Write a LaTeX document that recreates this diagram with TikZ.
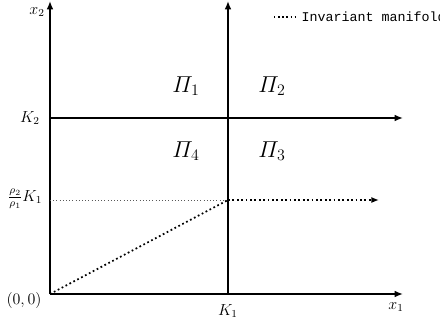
\documentclass[tikz,border=0pt]{standalone}
\usepackage{amsmath,amssymb}
\usepackage{fontspec}
\setmonofont{Liberation Mono}
\usepackage{tikz}
\usetikzlibrary{arrows.meta, positioning, calc}

\begin{document}
\begin{tikzpicture}[
    x=0.75pt, y=-0.75pt,
    axis/.style={line width=1.3pt, -{Latex[length=2.2mm, width=1.8mm]}},
    guide/.style={dotted, line width=0.4pt, gray!70!black},
    manifold/.style={dotted, line width=1.3pt},
    region/.style={font=\LARGE},
    lbl/.style={font=\large}
]
\useasboundingbox (0,0) rectangle (440,325);
\clip (0,0) rectangle (440,325);

% axes and thresholds
\coordinate (orig) at (50,294);
\coordinate (xend) at (403,294);
\coordinate (yend) at (50,1);
\coordinate (kone) at (228,294);
\coordinate (konetop) at (228,1);
\coordinate (ktwo) at (50,118);
\coordinate (ktwoend) at (403,118);
\coordinate (rho) at (50,200);
\coordinate (corner) at (228,200);
\coordinate (mfend) at (379,200);

\draw[axis] (orig) -- (xend);
\draw[axis] (orig) -- (yend);
\draw[axis] (kone) -- (konetop);
\draw[axis] (ktwo) -- (ktwoend);
\draw[guide] (rho) -- (corner);
\draw[manifold] (orig) -- (corner);
\draw[manifold, -{Latex[length=2mm, width=1.6mm]}] (corner) -- (mfend);

% axis labels
\node[lbl] (xtwo) at (37,12) {$x_2$};
\node[lbl] (xone) at (396,307) {$x_1$};
\node[lbl] (ktwolbl) at (30,118) {$K_2$};
\node[lbl] (konelbl) at (228,311) {$K_1$};
\node[lbl] (origlbl) at (24,300) {$(0,0)$};
\node[lbl] (rholbl) at (25,199) {$\frac{\rho_2}{\rho_1}K_1$};

% regions
\node[region] (pione) at (186,86) {$\varPi_1$};
\node[region] (pitwo) at (272,86) {$\varPi_2$};
\node[region] (pifour) at (186,151) {$\varPi_4$};
\node[region] (pithree) at (272,151) {$\varPi_3$};

% legend
\coordinate (lgs) at (274,17);
\coordinate (lge) at (298,17);
\draw[manifold, line width=1.1pt] (lgs) -- (lge);
\node[font=\ttfamily, anchor=west, inner sep=1pt] (lgtext) at (300,17) {Invariant manifold};
\end{tikzpicture}
\end{document}
